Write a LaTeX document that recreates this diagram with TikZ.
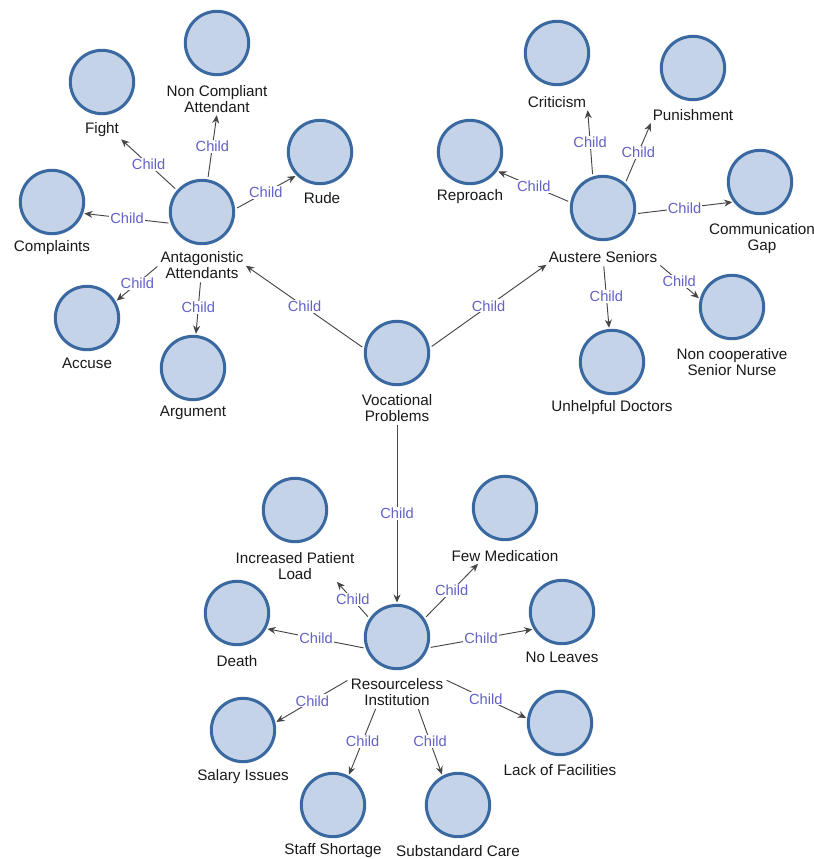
\documentclass[tikz,border=0pt]{standalone}
\usepackage{fontspec}
\setmainfont{Liberation Sans}
\usepackage{tikz}
\usetikzlibrary{arrows.meta}
\definecolor{cfill}{RGB}{197,211,233}
\definecolor{cline}{RGB}{58,104,160}
\definecolor{clink}{RGB}{70,70,70}
\definecolor{cchild}{RGB}{98,98,200}
\tikzstyle{cn}=[shape=circle,draw=cline,fill=cfill,line width=2.6pt,minimum size=1.9cm,inner sep=0pt]
\tikzstyle{lb}=[align=center,inner sep=1pt,text=black!90,font=\fontsize{13}{13.6}\selectfont]
\tikzstyle{link}=[->,shorten <=2pt,shorten >=1pt,>={Stealth[length=7pt,width=6pt]},draw=clink,line width=0.8pt]
\tikzstyle{rel}=[fill=white,inner sep=1pt,text=cchild,font=\fontsize{12.5}{13}\selectfont]

\begin{document}
\begin{tikzpicture}[x=0.03cm,y=-0.03cm]
    \useasboundingbox (0,0) rectangle (814,859);
    % root
    \node[cn] (voc) at (397,353) {};
    \node[lb] (voc-t) at (397,408) {Vocational\\Problems};
    % antagonistic attendants
    \node[cn] (ant) at (202,212) {};
    \node[lb] (ant-t) at (202,265) {Antagonistic\\Attendants};
    \node[cn] (fight) at (102,82) {};
    \node[lb] (fight-t) at (102,130) {Fight};
    \node[cn] (nca) at (217,43) {};
    \node[lb] (nca-t) at (217,99) {Non Compliant\\Attendant};
    \node[cn] (rude) at (320,152) {};
    \node[lb] (rude-t) at (322,198) {Rude};
    \node[cn] (comp) at (52,202) {};
    \node[lb] (comp-t) at (52,248) {Complaints};
    \node[cn] (acc) at (87,318) {};
    \node[lb] (acc-t) at (87,363) {Accuse};
    \node[cn] (arg) at (193,368) {};
    \node[lb] (arg-t) at (193,413) {Argument};
    % austere seniors
    \node[cn] (aus) at (603,208) {};
    \node[lb] (aus-t) at (603,257) {Austere Seniors};
    \node[cn] (rep) at (470,152) {};
    \node[lb] (rep-t) at (470,197) {Reproach};
    \node[cn] (crit) at (557,53) {};
    \node[lb] (crit-t) at (557,102) {Criticism};
    \node[cn] (pun) at (693,68) {};
    \node[lb] (pun-t) at (693,115) {Punishment};
    \node[cn] (comm) at (760,182) {};
    \node[lb] (comm-t) at (762,239) {Communication\\Gap};
    \node[cn] (nco) at (732,307) {};
    \node[lb] (nco-t) at (732,362) {Non cooperative\\Senior Nurse};
    \node[cn] (unh) at (612,362) {};
    \node[lb] (unh-t) at (612,408) {Unhelpful Doctors};
    % resourceless institution
    \node[cn] (res) at (397,637) {};
    \node[lb] (res-t) at (397,692) {Resourceless\\Institution};
    \node[cn] (inc) at (295,510) {};
    \node[lb] (inc-t) at (295,566) {Increased Patient\\Load};
    \node[cn] (fm) at (505,508) {};
    \node[lb] (fm-t) at (505,556) {Few Medication};
    \node[cn] (death) at (237,613) {};
    \node[lb] (death-t) at (237,661) {Death};
    \node[cn] (nl) at (562,612) {};
    \node[lb] (nl-t) at (562,657) {No Leaves};
    \node[cn] (sal) at (243,730) {};
    \node[lb] (sal-t) at (243,777) {Salary Issues};
    \node[cn] (staff) at (333,805) {};
    \node[lb] (staff-t) at (333,851) {Staff Shortage};
    \node[cn] (sub) at (458,805) {};
    \node[lb] (sub-t) at (458,851) {Substandard Care};
    \node[cn] (lack) at (560,723) {};
    \node[lb] (lack-t) at (560,770) {Lack of Facilities};

    % child links
    \draw[link] (voc.172) -- node[rel] {Child} (ant-t.east);
    \draw[link] (voc.9) -- node[rel] {Child} (aus-t.south west);
    \draw[link] (voc-t.south) -- node[rel] {Child} (res.north);
    \draw[link] (ant.139) -- node[rel] {Child} (fight-t.south east);
    \draw[link] (ant.80) -- node[rel] {Child} (nca-t.south);
    \draw[link] (ant.5) -- node[rel] {Child} (rude.225);
    \draw[link] (ant.200) -- node[rel] {Child} (comp.-20);
    \draw[link] (ant-t.west) -- node[rel] {Child} (acc.30);
    \draw[link] (ant-t) -- node[rel] {Child} (arg);
    \draw[link] (aus.170) -- node[rel] {Child} (rep.-35);
    \draw[link] (aus.108) -- node[rel] {Child} (crit-t.south east);
    \draw[link] (aus.48) -- node[rel] {Child} (pun-t.south west);
    \draw[link] (aus.-10) -- node[rel] {Child} (comm.217);
    \draw[link] (aus-t.south east) -- node[rel] {Child} (nco.166);
    \draw[link] (aus-t) -- node[rel] {Child} (unh);
    \draw[link] (res.146) -- node[rel] {Child} (inc-t.-20);
    \draw[link] (res.34) -- node[rel] {Child} (fm-t.-165);
    \draw[link] (res.200) -- node[rel] {Child} (death.-28);
    \draw[link] (res.-19) -- node[rel] {Child} (nl.211);
    \draw[link] (res-t.165) -- node[rel] {Child} (sal.13);
    \draw[link] (res-t.-144) -- node[rel] {Child} (staff.62);
    \draw[link] (res-t.-36) -- node[rel] {Child} (sub.118);
    \draw[link] (res-t.15) -- node[rel] {Child} (lack.172);
\end{tikzpicture}
\end{document}
